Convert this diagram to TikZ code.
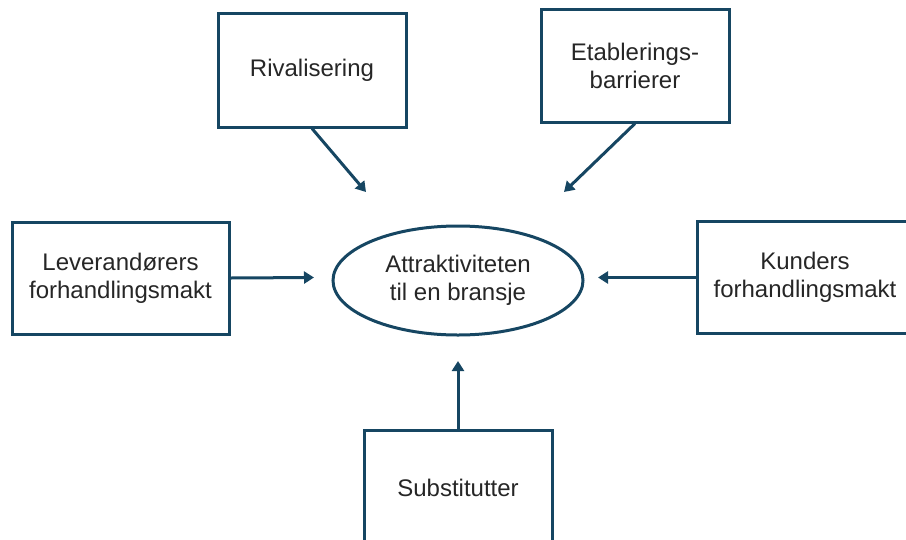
\documentclass[tikz,border=0pt]{standalone}
\usepackage{fontspec}
\setmainfont{Liberation Sans}
\usetikzlibrary{arrows.meta,shapes.geometric}
\definecolor{navy}{RGB}{22,70,98}
\begin{document}
\begin{tikzpicture}[x=1pt,y=-1pt,
  box/.style={draw=navy,line width=3pt,rectangle,align=center,inner sep=0pt,
    font=\fontsize{24}{28}\selectfont,text=black!85},
  oval/.style={draw=navy,line width=3pt,ellipse,align=center,inner sep=0pt,
    minimum width=250pt,minimum height=109pt,font=\fontsize{24}{28}\selectfont,text=black!85},
  conn/.style={draw=navy,line width=3pt,-{Triangle[length=10pt,width=12pt]}}]
\useasboundingbox (0,0) rectangle (906,539);
\clip (0,0) rectangle (906,539);
\node[box,minimum width=188pt,minimum height=114pt] (riv) at (312,70) {Rivalisering};
\node[box,minimum width=188pt,minimum height=113pt] (etab) at (635,65.5) {Etablerings-\\barrierer};
\node[box,minimum width=217pt,minimum height=112pt] (lev) at (120.5,278) {Leverandørers\\forhandlingsmakt};
\node[box,minimum width=216pt,minimum height=112pt] (kun) at (805,277.5) {Kunders\\forhandlingsmakt};
\node[box,minimum width=188pt,minimum height=116pt] (sub) at (458,488) {Substitutter};
\node[oval] (att) at (458,280.5) {Attraktiviteten\\til en bransje};
\coordinate (eriv) at (366,192);
\coordinate (eetab) at (564,192);
\coordinate (elev) at (314,277.5);
\coordinate (ekun) at (598,277.5);
\coordinate (esub) at (458,361);
\draw[conn] (riv.south) -- (eriv);
\draw[conn] (etab.south) -- (eetab);
\draw[conn] (lev.east) -- (elev);
\draw[conn] (kun.west) -- (ekun);
\draw[conn] (sub.north) -- (esub);
\end{tikzpicture}
\end{document}
